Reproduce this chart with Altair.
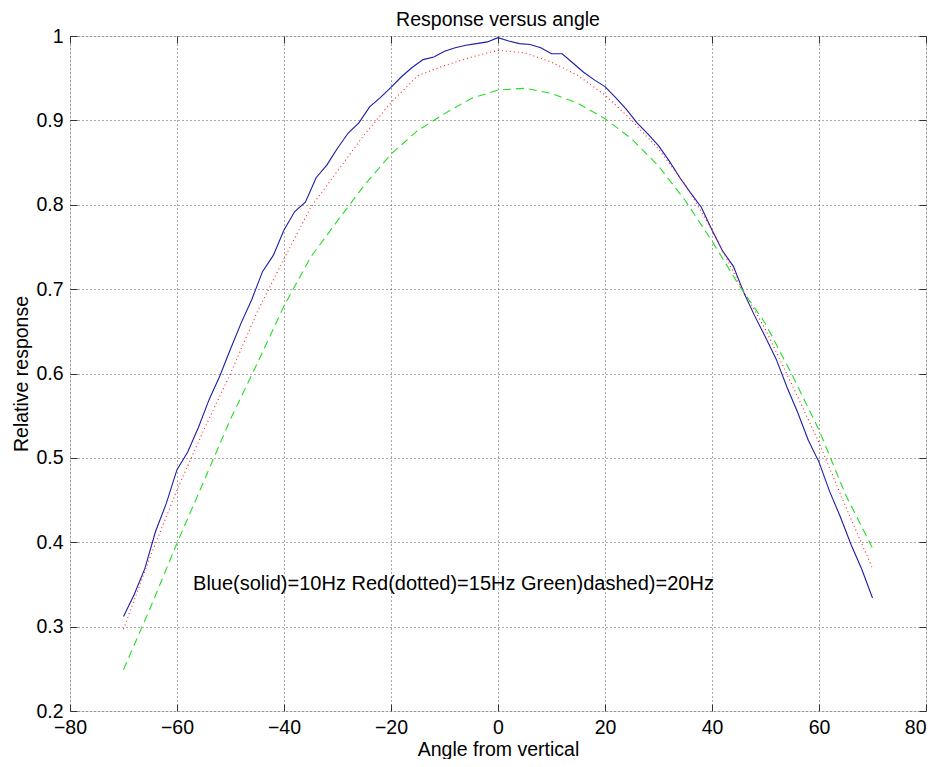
import altair as alt
import pandas as pd

# ---- data ----
blue_angle = [-70, -68, -66, -64, -62, -60, -58, -56, -54, -52, -50, -48, -46, -44, -42, -40,
              -38, -36, -34, -32, -30, -28, -26, -24, -22, -20, -18, -16, -14, -12, -10, -8,
              -6, -4, -2, 0, 2, 4, 6, 8, 10, 12, 14, 16, 18, 20, 22, 24, 26, 28, 30, 32, 34,
              36, 38, 40, 42, 44, 46, 48, 50, 52, 54, 56, 58, 60, 62, 64, 66, 68, 70]
blue_resp = [0.312, 0.338, 0.369, 0.413, 0.446, 0.486, 0.507, 0.536, 0.569, 0.597, 0.629, 0.660,
             0.688, 0.721, 0.740, 0.770, 0.792, 0.803, 0.832, 0.847, 0.867, 0.885, 0.897, 0.916,
             0.927, 0.939, 0.952, 0.963, 0.972, 0.975, 0.982, 0.986, 0.989, 0.991, 0.993, 0.998,
             0.994, 0.991, 0.990, 0.986, 0.979, 0.979, 0.968, 0.957, 0.948, 0.940, 0.927, 0.913,
             0.897, 0.884, 0.870, 0.852, 0.832, 0.814, 0.797, 0.770, 0.745, 0.727, 0.695, 0.668,
             0.643, 0.617, 0.584, 0.554, 0.521, 0.495, 0.460, 0.430, 0.397, 0.368, 0.334]

red_angle = [-70, -65, -60, -55, -50, -45, -40, -35, -30, -25, -20, -15, -10, -5, 0,
             5, 10, 15, 20, 25, 30, 35, 40, 45, 50, 55, 60, 65, 70]
red_resp = [0.297, 0.383, 0.462, 0.533, 0.600, 0.673, 0.736, 0.797, 0.840, 0.883, 0.921, 0.953,
            0.965, 0.975, 0.983, 0.980, 0.969, 0.953, 0.930, 0.900, 0.866, 0.824, 0.770, 0.708,
            0.652, 0.586, 0.518, 0.442, 0.369]

green_angle = [-70, -65, -60, -55, -50, -45, -40, -35, -30, -25, -20, -15, -10, -5, 0,
               5, 10, 15, 20, 25, 30, 35, 40, 45, 50, 55, 60, 65, 70]
green_resp = [0.249, 0.322, 0.399, 0.472, 0.546, 0.612, 0.680, 0.738, 0.781, 0.823, 0.860, 0.888,
              0.908, 0.926, 0.936, 0.938, 0.932, 0.920, 0.902, 0.878, 0.846, 0.805, 0.757, 0.705,
              0.659, 0.598, 0.533, 0.456, 0.393]

x_ticks = [-80, -60, -40, -20, 0, 20, 40, 60, 80]
y_ticks = [0.2, 0.3, 0.4, 0.5, 0.6, 0.7, 0.8, 0.9, 1.0]

note_text = ["Blue(solid)=10Hz Red(dotted)=15Hz Green)dashed)=20Hz"]
note_x = [-57]
note_y = [0.35]

chart_title = ["Response versus angle"]

FONT = "Liberation Sans"
FS = 19.5
W, H = 856, 675

df = pd.concat([
    pd.DataFrame({"angle": blue_angle, "resp": blue_resp, "series": "blue"}),
    pd.DataFrame({"angle": red_angle, "resp": red_resp, "series": "red"}),
    pd.DataFrame({"angle": green_angle, "resp": green_resp, "series": "green"}),
])
note_df = pd.DataFrame({"angle": note_x, "resp": note_y, "label": note_text})
title_df = pd.DataFrame({"label": chart_title})

xscale = alt.Scale(domain=[-80, 80], nice=False)
yscale = alt.Scale(domain=[0.2, 1.0], nice=False, zero=False)

ylabel_expr = "datum.value >= 0.999 ? '1' : format(datum.value, '.1f')"

base = alt.Chart(df)

blue = base.transform_filter(alt.datum.series == "blue").mark_line(
    color="#1c1caa", strokeWidth=1.1
).encode(
    x=alt.X("angle:Q", scale=xscale,
            axis=alt.Axis(values=x_ticks, title="Angle from vertical", grid=True,
                          tickSize=0, domain=False, labelPadding=7, titlePadding=4,
                          labelFlush=False, labelOverlap=False,
                          labelAlign=alt.condition("datum.value >= 80", alt.value("right"),
                                                   alt.value("center")),
                          labelFontSize=FS, titleFontSize=FS, labelFont=FONT, titleFont=FONT,
                          labelColor="#000", titleColor="#000", titleFontWeight="normal",
                          gridColor="#555", gridDash=[1, 3], gridWidth=1)),
    y=alt.Y("resp:Q", scale=yscale,
            axis=alt.Axis(values=y_ticks, title="Relative response", grid=True,
                          tickSize=0, domain=False, labelPadding=7, titlePadding=4,
                          labelFlush=False, labelOverlap=False,
                          labelExpr=ylabel_expr,
                          labelFontSize=FS, titleFontSize=FS, labelFont=FONT, titleFont=FONT,
                          labelColor="#000", titleColor="#000", titleFontWeight="normal",
                          gridColor="#555", gridDash=[1, 3], gridWidth=1)),
)

red = base.transform_filter(alt.datum.series == "red").mark_line(
    color="#ff2020", strokeWidth=1.1, strokeDash=[1, 3]
).encode(
    x=alt.X("angle:Q", scale=xscale,
            axis=alt.Axis(orient="top", offset=-7, values=x_ticks, tickSize=7, labels=False,
                          domain=False, grid=False, title=None, tickColor="#333")),
    y=alt.Y("resp:Q", scale=yscale,
            axis=alt.Axis(orient="right", offset=-7, values=y_ticks, tickSize=7, labels=False,
                          domain=False, grid=False, title=None, tickColor="#333")),
)

green = base.transform_filter(alt.datum.series == "green").mark_line(
    color="#22dd22", strokeWidth=1.1, strokeDash=[8, 5]
).encode(
    x=alt.X("angle:Q", scale=xscale,
            axis=alt.Axis(orient="bottom", offset=-7, values=x_ticks, tickSize=7, labels=False,
                          domain=False, grid=False, title=None, tickColor="#333")),
    y=alt.Y("resp:Q", scale=yscale,
            axis=alt.Axis(orient="left", offset=-7, values=y_ticks, tickSize=7, labels=False,
                          domain=False, grid=False, title=None, tickColor="#333")),
)

note = alt.Chart(note_df).mark_text(
    align="left", baseline="middle", fontSize=20, font=FONT, color="#000"
).encode(
    x=alt.X("angle:Q", scale=xscale, axis=None),
    y=alt.Y("resp:Q", scale=yscale, axis=None),
    text="label:N",
)

title_mark = alt.Chart(title_df).mark_text(
    align="center", baseline="alphabetic", fontSize=FS, font=FONT, color="#000"
).encode(
    x=alt.value(W / 2),
    y=alt.value(-10),
    text="label:N",
)

chart = alt.layer(blue, red, green, note, title_mark).resolve_axis(
    x="independent", y="independent"
).properties(
    width=W,
    height=H,
    autosize=alt.AutoSizeParams(type="none"),
    padding={"left": 62, "top": 28, "right": 7, "bottom": 48},
).configure_view(
    stroke="#333", strokeWidth=1
).configure(
    background="white"
)

chart.save("out.html", embed_options={"renderer": "svg", "actions": False})
